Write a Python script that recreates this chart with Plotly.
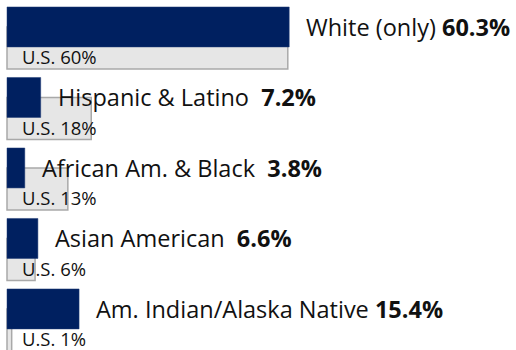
import plotly.graph_objects as go

# Share of each group among the institution's population vs. the U.S. population
categories = ["White (only)", "Hispanic & Latino", "African Am. & Black",
              "Asian American", "Am. Indian/Alaska Native"]
local_pct = [60.3, 7.2, 3.8, 6.6, 15.4]
us_pct = [60, 18, 13, 6, 1]
label_gap = [" ", "  ", "  ", "  ", " "]

NAVY = "#002060"
GRAY_FILL = "#e6e6e6"
GRAY_EDGE = "#a9a9a9"
FONT = "Open Sans"

pos = list(range(len(categories)))

fig = go.Figure()

# U.S. comparison bars (drawn first, sit beneath and below each navy bar)
fig.add_trace(go.Bar(
    x=us_pct, y=pos, orientation="h",
    width=0.596, offset=0.0,
    marker=dict(color=GRAY_FILL, line=dict(color=GRAY_EDGE, width=1.5)),
    hoverinfo="skip",
))

# Local share bars
fig.add_trace(go.Bar(
    x=local_pct, y=pos, orientation="h",
    width=0.567, offset=-0.284,
    marker=dict(color=NAVY, line=dict(color="#1f3a75", width=0.5)),
    hoverinfo="skip",
))

annotations = []
for i, (cat, v, us, gap) in enumerate(zip(categories, local_pct, us_pct, label_gap)):
    annotations.append(dict(
        x=v, y=i, xref="x", yref="y", xanchor="left", yanchor="middle",
        xshift=15, showarrow=False,
        text=f"{cat}{gap}<b>{v:.1f}%</b>",
        font=dict(family=FONT, size=23.5, color="#111111"),
    ))
    annotations.append(dict(
        x=0, y=i + 0.425, xref="x", yref="y", xanchor="left", yanchor="middle",
        xshift=13, showarrow=False,
        text=f"U.S. {us}%",
        font=dict(family=FONT, size=18.5, color="#111111"),
    ))

fig.update_layout(
    width=516, height=350,
    margin=dict(l=0, r=0, t=0, b=0),
    paper_bgcolor="white", plot_bgcolor="white",
    barmode="overlay", showlegend=False,
    annotations=annotations,
    xaxis=dict(range=[-1.496, 108.76], visible=False, fixedrange=True),
    yaxis=dict(range=[4.582, -0.383], visible=False, fixedrange=True),
)

fig.write_html("out.html")
